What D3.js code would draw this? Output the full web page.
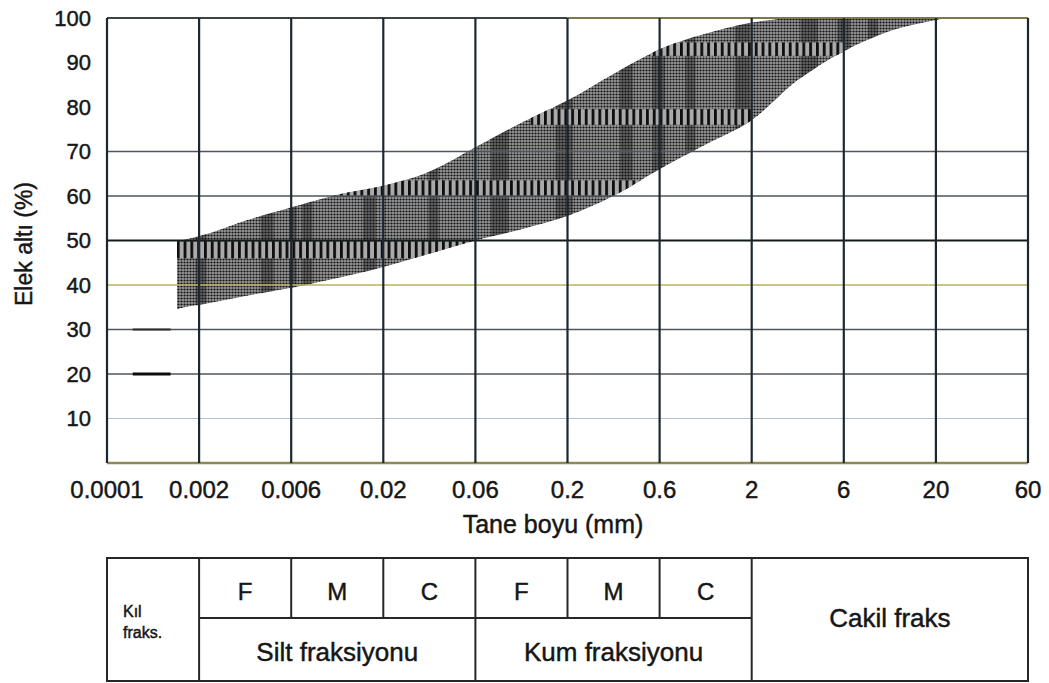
<!DOCTYPE html>
<html><head><meta charset="utf-8">
<script src="https://cdn.jsdelivr.net/npm/d3@7"></script>
<style>
html,body{margin:0;padding:0;background:#fff;}
svg{display:block;}
text{font-family:"Liberation Sans",Arial,Helvetica,sans-serif;fill:#161616;stroke:#161616;stroke-width:0.45px;}
</style>
</head><body>
<svg id="c" width="1049" height="683"></svg>
<script>
// ---------- data ----------
const sizeLabels = ["0.0001","0.002","0.006","0.02","0.06","0.2","0.6","2","6","20","60"];
const yTickValues = [10,20,30,40,50,60,70,80,90,100];
const gridValues = [10,20,30,40,50,60,70];
// band position in axis-index units (0 = 0.0001 ... 10 = 60)
const bandPos   = [0.76, 0.85, 1,    1.5,  2,    2.5,  3,    3.5,  4,  4.5,  5,    5.5,  6,  6.5,  7,  7.5, 8,    8.5, 9,    9.13];
const bandUpper = [50,   50.3, 51,   54.5, 57.5, 60.3, 62.3, 65.5, 71, 76.5, 81.5, 87.5, 93, 96.5, 99, 100, 100,  100, 100,  100];
const bandLower = [34.5, 35,   35.5, 37.5, 39.3, 41.5, 44,   47,   50, 52.5, 55.5, 60,   66, 71.5, 77, 86,  92.5, 97,  99.5, 100];
// texture of the scanned band (index units / percent)
const darkStripes = [[0.96,1.08],[1.67,1.81],[1.98,2.06],[2.12,2.23],[2.78,2.92],[3.49,3.6],[4.17,4.36],[4.87,5.06],[5.57,5.71],[5.92,6.06],[6.28,6.39],[6.82,6.98],[7.53,7.72],[7.93,8.07],[8.26,8.37]];
const combStrips = [
  {from:0.76, to:4.0,  lo:46,   hi:49.8},
  {from:2.4,  to:5.85, lo:60,   hi:63.5},
  {from:4.6,  to:7.0,  lo:76,   hi:79.5},
  {from:5.9,  to:8.0,  lo:91.5, hi:94.5}
];
const stubs = [{v:20, from:0.28, to:0.69}, {v:30, from:0.28, to:0.69}];
// table
const subFractions = ["F","M","C","F","M","C"];
const mainFractions = ["Silt fraksiyonu","Kum fraksiyonu"];
const clayLabel = ["Kıl","fraks."];
const gravelLabel = "Cakil fraks";
const yTitle = "Elek altı (%)";
const xTitle = "Tane boyu (mm)";

// ---------- layout ----------
const svg = d3.select("#c");
svg.append("rect").attr("width",1049).attr("height",683).attr("fill","#fff");
const x = d3.scaleLinear().domain([0, sizeLabels.length-1]).range([107, 1028]);
const y = d3.scaleLinear().domain([0,100]).range([463, 18]);

const defs = svg.append("defs");
const dots = defs.append("pattern").attr("id","dots").attr("patternUnits","userSpaceOnUse")
  .attr("width",3).attr("height",3);
dots.append("rect").attr("width",3).attr("height",3).attr("fill","#989898");
dots.append("circle").attr("cx",1.5).attr("cy",1.5).attr("r",1.12).attr("fill","#141414");
const comb = defs.append("pattern").attr("id","comb").attr("patternUnits","userSpaceOnUse")
  .attr("width",6.8).attr("height",40);
comb.append("rect").attr("width",6.8).attr("height",40).attr("fill","#aaaaaa");
comb.append("rect").attr("width",2.8).attr("height",40).attr("fill","#0e0e0e");

const bandData = bandPos.map((p,i)=>({p, hi:bandUpper[i], lo:bandLower[i]}));
const area = d3.area().x(d=>x(d.p)).y0(d=>y(d.lo)).y1(d=>y(d.hi)).curve(d3.curveMonotoneX);
defs.append("clipPath").attr("id","bandClip").append("path").attr("d", area(bandData));

const band = svg.append("g").attr("clip-path","url(#bandClip)");
band.append("path").attr("d", area(bandData)).attr("fill","url(#dots)");
band.selectAll("rect.ds").data(darkStripes).join("rect").attr("class","ds")
  .attr("x",d=>x(d[0])).attr("width",d=>x(d[1])-x(d[0]))
  .attr("y",y(100)).attr("height",y(0)-y(100)).attr("fill","#111").attr("opacity",0.38);
band.selectAll("rect.cs").data(combStrips).join("rect").attr("class","cs")
  .attr("x",d=>x(d.from)).attr("width",d=>x(d.to)-x(d.from))
  .attr("y",d=>y(d.hi)).attr("height",d=>y(d.lo)-y(d.hi)).attr("fill","url(#comb)");

// horizontal gridlines
const hColor = v => v===40 ? "#b9b35a" : v===10 ? "#b4c0cc" : v===50 ? "#151a1d" : "#4e565a";
const hWidth = v => v===50 ? 2 : v===10 ? 1 : 1.6;
svg.append("g").selectAll("line").data(gridValues).join("line")
  .attr("x1",x(0)).attr("x2",x(10)).attr("y1",d=>y(d)).attr("y2",d=>y(d))
  .attr("stroke",hColor).attr("stroke-width",hWidth);
svg.append("g").selectAll("line").data(stubs).join("line")
  .attr("x1",d=>x(d.from)).attr("x2",d=>x(d.to)).attr("y1",d=>y(d.v)).attr("y2",d=>y(d.v))
  .attr("stroke",d=>d.v===20?"#0c0c0c":"#2a2a2a").attr("stroke-width",d=>d.v===20?3:2);
// top & bottom frame
svg.append("line").attr("x1",x(0)).attr("x2",x(5)).attr("y1",y(100)).attr("y2",y(100))
  .attr("stroke","#3c4440").attr("stroke-width",2);
svg.append("line").attr("x1",x(5)).attr("x2",x(10)).attr("y1",y(100)).attr("y2",y(100))
  .attr("stroke","#7d7a48").attr("stroke-width",2);
svg.append("line").attr("x1",x(0)).attr("x2",x(10)).attr("y1",y(0)).attr("y2",y(0))
  .attr("stroke","#8c8a55").attr("stroke-width",2.5);
// vertical gridlines
svg.append("g").selectAll("line").data(d3.range(sizeLabels.length)).join("line")
  .attr("x1",d=>x(d)).attr("x2",d=>x(d)).attr("y1",y(100)).attr("y2",y(0))
  .attr("stroke","#1c2830").attr("stroke-width",2.2);

// y tick labels
svg.append("g").selectAll("text").data(yTickValues).join("text")
  .attr("x",91).attr("y",d=>y(d)).attr("dy","0.35em").attr("text-anchor","end")
  .attr("font-size",22).text(d=>d);
// x tick labels
svg.append("g").selectAll("text").data(sizeLabels).join("text")
  .attr("x",(d,i)=>x(i)).attr("y",498).attr("text-anchor","middle")
  .attr("font-size",24).text(d=>d);
// axis titles
svg.append("text").attr("transform","translate(32,244) rotate(-90)").attr("text-anchor","middle")
  .attr("font-size",23).text(yTitle);
svg.append("text").attr("x",553).attr("y",533).attr("text-anchor","middle")
  .attr("font-size",25).text(xTitle);

// ---------- fraction table ----------
const tTop = 558, tMid = 618, tBot = 681;
const tg = svg.append("g").attr("stroke","#262626").attr("stroke-width",2).attr("fill","none");
tg.append("rect").attr("x",x(0)).attr("y",tTop).attr("width",x(10)-x(0)).attr("height",tBot-tTop);
tg.append("line").attr("x1",x(1)).attr("x2",x(7)).attr("y1",tMid).attr("y2",tMid);
tg.selectAll("line.full").data([1,4,7]).join("line").attr("class","full")
  .attr("x1",d=>x(d)).attr("x2",d=>x(d)).attr("y1",tTop).attr("y2",tBot);
tg.selectAll("line.half").data([2,3,5,6]).join("line").attr("class","half")
  .attr("x1",d=>x(d)).attr("x2",d=>x(d)).attr("y1",tTop).attr("y2",tMid);

svg.append("g").selectAll("text").data(subFractions).join("text")
  .attr("x",(d,i)=>(x(i+1)+x(i+2))/2).attr("y",600).attr("text-anchor","middle")
  .attr("font-size",24).text(d=>d);
svg.append("g").selectAll("text").data(mainFractions).join("text")
  .attr("x",(d,i)=>(x(1+3*i)+x(4+3*i))/2).attr("y",661).attr("text-anchor","middle")
  .attr("font-size",26).text(d=>d);
svg.append("text").attr("x",(x(7)+x(10))/2).attr("y",627).attr("text-anchor","middle")
  .attr("font-size",26).text(gravelLabel);
svg.append("g").selectAll("text").data(clayLabel).join("text")
  .attr("x",123).attr("y",(d,i)=>617+i*21).attr("font-size",16).text(d=>d);
</script>
</body></html>
